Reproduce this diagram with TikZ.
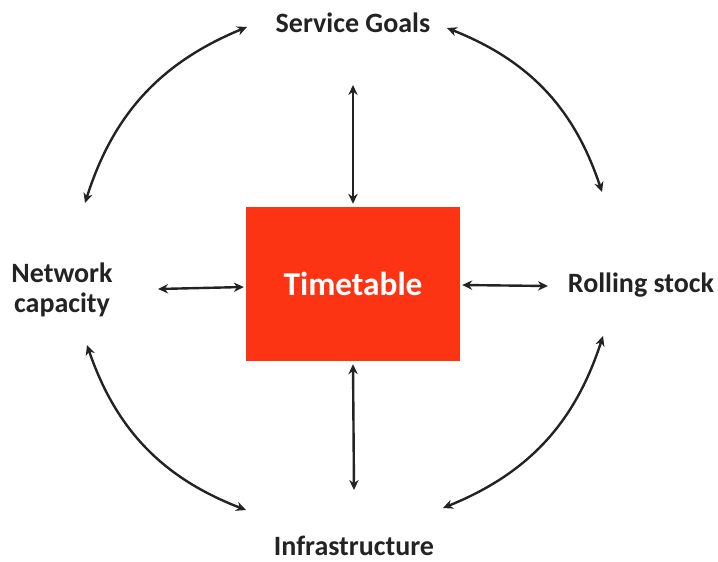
\documentclass[tikz,border=0pt]{standalone}
\usepackage{fontspec}
\setmainfont{Carlito}
\usetikzlibrary{arrows.meta}

\definecolor{ttred}{RGB}{252,52,20}
\definecolor{labelgray}{RGB}{35,35,35}

\begin{document}
\begin{tikzpicture}[x=0.75pt,y=-0.75pt,<->,>={Stealth[length=7.5pt,width=7pt]},
  line width=1.8pt,draw=labelgray,
  part node/.style={font=\fontsize{21}{23}\selectfont\bfseries,text=labelgray,
    align=center,inner sep=1pt},
  main node/.style={fill=ttred,minimum width=160.5pt,minimum height=115.5pt,
    font=\fontsize{25}{28}\selectfont\bfseries,text=white}]

  \useasboundingbox (0,0) rectangle (718,561);

  \node[main node] (tt) at (353,284) {Timetable};
  \node[part node] (goals) at (353,23) {Service Goals};
  \node[part node] (net) at (62,290) {Network\\capacity};
  \node[part node] (stock) at (641,285) {Rolling stock};
  \node[part node] (infra) at (354,546) {Infrastructure};

  % straight links to the timetable
  \draw ([shift={(0,62)}]goals.center) -- ([shift={(0,-2)}]tt.north);
  \draw ([shift={(0,2)}]tt.south) -- ([shift={(0,-56)}]infra.center);
  \draw ([shift={(96,-1)}]net.center) -- ([shift={(-1,3)}]tt.west);
  \draw ([shift={(1,1)}]tt.east) -- ([shift={(-93,1)}]stock.center);

  % ring round the outside
  \draw ([shift={(-106,4)}]goals.center) to[bend right=25] ([shift={(23,-87)}]net.center);
  \draw ([shift={(94,5)}]goals.center) to[bend left=25] ([shift={(-39,-93)}]stock.center);
  \draw ([shift={(25,55)}]net.center) to[bend right=25] ([shift={(-108,-36)}]infra.center);
  \draw ([shift={(-38,51)}]stock.center) to[bend left=25] ([shift={(89,-38)}]infra.center);
\end{tikzpicture}
\end{document}
